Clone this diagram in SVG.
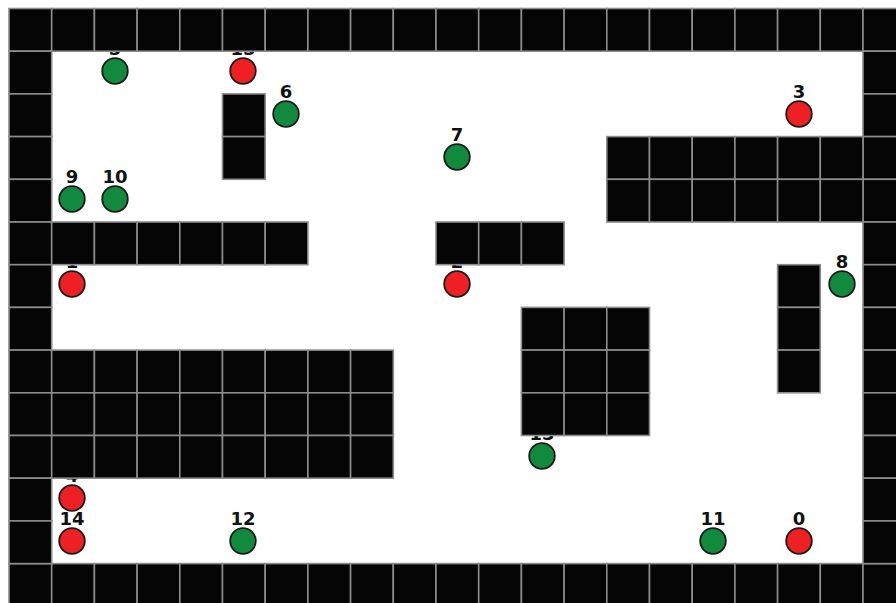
<svg xmlns="http://www.w3.org/2000/svg" xmlns:xlink="http://www.w3.org/1999/xlink" width="896" height="603" viewBox="0 0 896 603">
<style>
.cell{fill:#050505;stroke:#8c8c8c;stroke-width:1.6}
.r{fill:#ee2024;stroke:#1a1a1a;stroke-width:1.8}
.g{fill:#128a3e;stroke:#1a1a1a;stroke-width:1.8}
.lb{font-family:"DejaVu Sans",sans-serif;font-size:18px;font-weight:bold;fill:#111;text-anchor:middle}
</style>
<defs>
<rect id="c" width="42.7" height="42.7" class="cell"/>
</defs>
<rect width="896" height="603" fill="#fff"/>
<g id="connectors"/>
<g id="nodes">
<g id="n0"><text class="lb" x="799" y="525">0</text><circle class="r" cx="799" cy="541" r="12.8"/></g>
<g id="n1"><text class="lb" x="72" y="268">1</text><circle class="r" cx="72" cy="284" r="12.8"/></g>
<g id="n2"><text class="lb" x="457" y="268">2</text><circle class="r" cx="457" cy="284" r="12.8"/></g>
<g id="n3"><text class="lb" x="799" y="98">3</text><circle class="r" cx="799" cy="114" r="12.8"/></g>
<g id="n4"><text class="lb" x="72" y="482">4</text><circle class="r" cx="72" cy="498" r="12.8"/></g>
<g id="n5"><text class="lb" x="115" y="55">5</text><circle class="g" cx="115" cy="71" r="12.8"/></g>
<g id="n6"><text class="lb" x="286" y="98">6</text><circle class="g" cx="286" cy="114" r="12.8"/></g>
<g id="n7"><text class="lb" x="457" y="141">7</text><circle class="g" cx="457" cy="157" r="12.8"/></g>
<g id="n8"><text class="lb" x="842" y="268">8</text><circle class="g" cx="842" cy="284" r="12.8"/></g>
<g id="n9"><text class="lb" x="72" y="183">9</text><circle class="g" cx="72" cy="199" r="12.8"/></g>
<g id="n10"><text class="lb" x="115" y="183">10</text><circle class="g" cx="115" cy="199" r="12.8"/></g>
<g id="n11"><text class="lb" x="713" y="525">11</text><circle class="g" cx="713" cy="541" r="12.8"/></g>
<g id="n12"><text class="lb" x="243" y="525">12</text><circle class="g" cx="243" cy="541" r="12.8"/></g>
<g id="n13"><text class="lb" x="542" y="440">13</text><circle class="g" cx="542" cy="456" r="12.8"/></g>
<g id="n14"><text class="lb" x="72" y="525">14</text><circle class="r" cx="72" cy="541" r="12.8"/></g>
<g id="n15"><text class="lb" x="243" y="55">15</text><circle class="r" cx="243" cy="71" r="12.8"/></g>
</g>
<g id="walls">
<use href="#c" x="9" y="8.5"/><use href="#c" x="51.7" y="8.5"/><use href="#c" x="94.4" y="8.5"/><use href="#c" x="137.1" y="8.5"/><use href="#c" x="179.8" y="8.5"/><use href="#c" x="222.5" y="8.5"/><use href="#c" x="265.2" y="8.5"/><use href="#c" x="307.9" y="8.5"/><use href="#c" x="350.6" y="8.5"/><use href="#c" x="393.3" y="8.5"/><use href="#c" x="436" y="8.5"/><use href="#c" x="478.7" y="8.5"/><use href="#c" x="521.4" y="8.5"/><use href="#c" x="564.1" y="8.5"/><use href="#c" x="606.8" y="8.5"/><use href="#c" x="649.5" y="8.5"/><use href="#c" x="692.2" y="8.5"/><use href="#c" x="734.9" y="8.5"/><use href="#c" x="777.6" y="8.5"/><use href="#c" x="820.3" y="8.5"/><use href="#c" x="863" y="8.5"/>
<use href="#c" x="9" y="563.6"/><use href="#c" x="51.7" y="563.6"/><use href="#c" x="94.4" y="563.6"/><use href="#c" x="137.1" y="563.6"/><use href="#c" x="179.8" y="563.6"/><use href="#c" x="222.5" y="563.6"/><use href="#c" x="265.2" y="563.6"/><use href="#c" x="307.9" y="563.6"/><use href="#c" x="350.6" y="563.6"/><use href="#c" x="393.3" y="563.6"/><use href="#c" x="436" y="563.6"/><use href="#c" x="478.7" y="563.6"/><use href="#c" x="521.4" y="563.6"/><use href="#c" x="564.1" y="563.6"/><use href="#c" x="606.8" y="563.6"/><use href="#c" x="649.5" y="563.6"/><use href="#c" x="692.2" y="563.6"/><use href="#c" x="734.9" y="563.6"/><use href="#c" x="777.6" y="563.6"/><use href="#c" x="820.3" y="563.6"/><use href="#c" x="863" y="563.6"/>
<use href="#c" x="9" y="51.2"/><use href="#c" x="9" y="93.9"/><use href="#c" x="9" y="136.6"/><use href="#c" x="9" y="179.3"/><use href="#c" x="9" y="222"/><use href="#c" x="9" y="264.7"/><use href="#c" x="9" y="307.4"/><use href="#c" x="9" y="350.1"/><use href="#c" x="9" y="392.8"/><use href="#c" x="9" y="435.5"/><use href="#c" x="9" y="478.2"/><use href="#c" x="9" y="520.9"/>
<use href="#c" x="863" y="51.2"/><use href="#c" x="863" y="93.9"/><use href="#c" x="863" y="136.6"/><use href="#c" x="863" y="179.3"/><use href="#c" x="863" y="222"/><use href="#c" x="863" y="264.7"/><use href="#c" x="863" y="307.4"/><use href="#c" x="863" y="350.1"/><use href="#c" x="863" y="392.8"/><use href="#c" x="863" y="435.5"/><use href="#c" x="863" y="478.2"/><use href="#c" x="863" y="520.9"/>
<use href="#c" x="222.5" y="93.9"/><use href="#c" x="222.5" y="136.6"/>
<use href="#c" x="606.8" y="136.6"/><use href="#c" x="649.5" y="136.6"/><use href="#c" x="692.2" y="136.6"/><use href="#c" x="734.9" y="136.6"/><use href="#c" x="777.6" y="136.6"/><use href="#c" x="820.3" y="136.6"/>
<use href="#c" x="606.8" y="179.3"/><use href="#c" x="649.5" y="179.3"/><use href="#c" x="692.2" y="179.3"/><use href="#c" x="734.9" y="179.3"/><use href="#c" x="777.6" y="179.3"/><use href="#c" x="820.3" y="179.3"/>
<use href="#c" x="51.7" y="222"/><use href="#c" x="94.4" y="222"/><use href="#c" x="137.1" y="222"/><use href="#c" x="179.8" y="222"/><use href="#c" x="222.5" y="222"/><use href="#c" x="265.2" y="222"/>
<use href="#c" x="436" y="222"/><use href="#c" x="478.7" y="222"/><use href="#c" x="521.4" y="222"/>
<use href="#c" x="777.6" y="264.7"/><use href="#c" x="777.6" y="307.4"/><use href="#c" x="777.6" y="350.1"/>
<use href="#c" x="521.4" y="307.4"/><use href="#c" x="564.1" y="307.4"/><use href="#c" x="606.8" y="307.4"/>
<use href="#c" x="521.4" y="350.1"/><use href="#c" x="564.1" y="350.1"/><use href="#c" x="606.8" y="350.1"/>
<use href="#c" x="521.4" y="392.8"/><use href="#c" x="564.1" y="392.8"/><use href="#c" x="606.8" y="392.8"/>
<use href="#c" x="51.7" y="350.1"/><use href="#c" x="94.4" y="350.1"/><use href="#c" x="137.1" y="350.1"/><use href="#c" x="179.8" y="350.1"/><use href="#c" x="222.5" y="350.1"/><use href="#c" x="265.2" y="350.1"/><use href="#c" x="307.9" y="350.1"/><use href="#c" x="350.6" y="350.1"/>
<use href="#c" x="51.7" y="392.8"/><use href="#c" x="94.4" y="392.8"/><use href="#c" x="137.1" y="392.8"/><use href="#c" x="179.8" y="392.8"/><use href="#c" x="222.5" y="392.8"/><use href="#c" x="265.2" y="392.8"/><use href="#c" x="307.9" y="392.8"/><use href="#c" x="350.6" y="392.8"/>
<use href="#c" x="51.7" y="435.5"/><use href="#c" x="94.4" y="435.5"/><use href="#c" x="137.1" y="435.5"/><use href="#c" x="179.8" y="435.5"/><use href="#c" x="222.5" y="435.5"/><use href="#c" x="265.2" y="435.5"/><use href="#c" x="307.9" y="435.5"/><use href="#c" x="350.6" y="435.5"/>
</g>
</svg>
